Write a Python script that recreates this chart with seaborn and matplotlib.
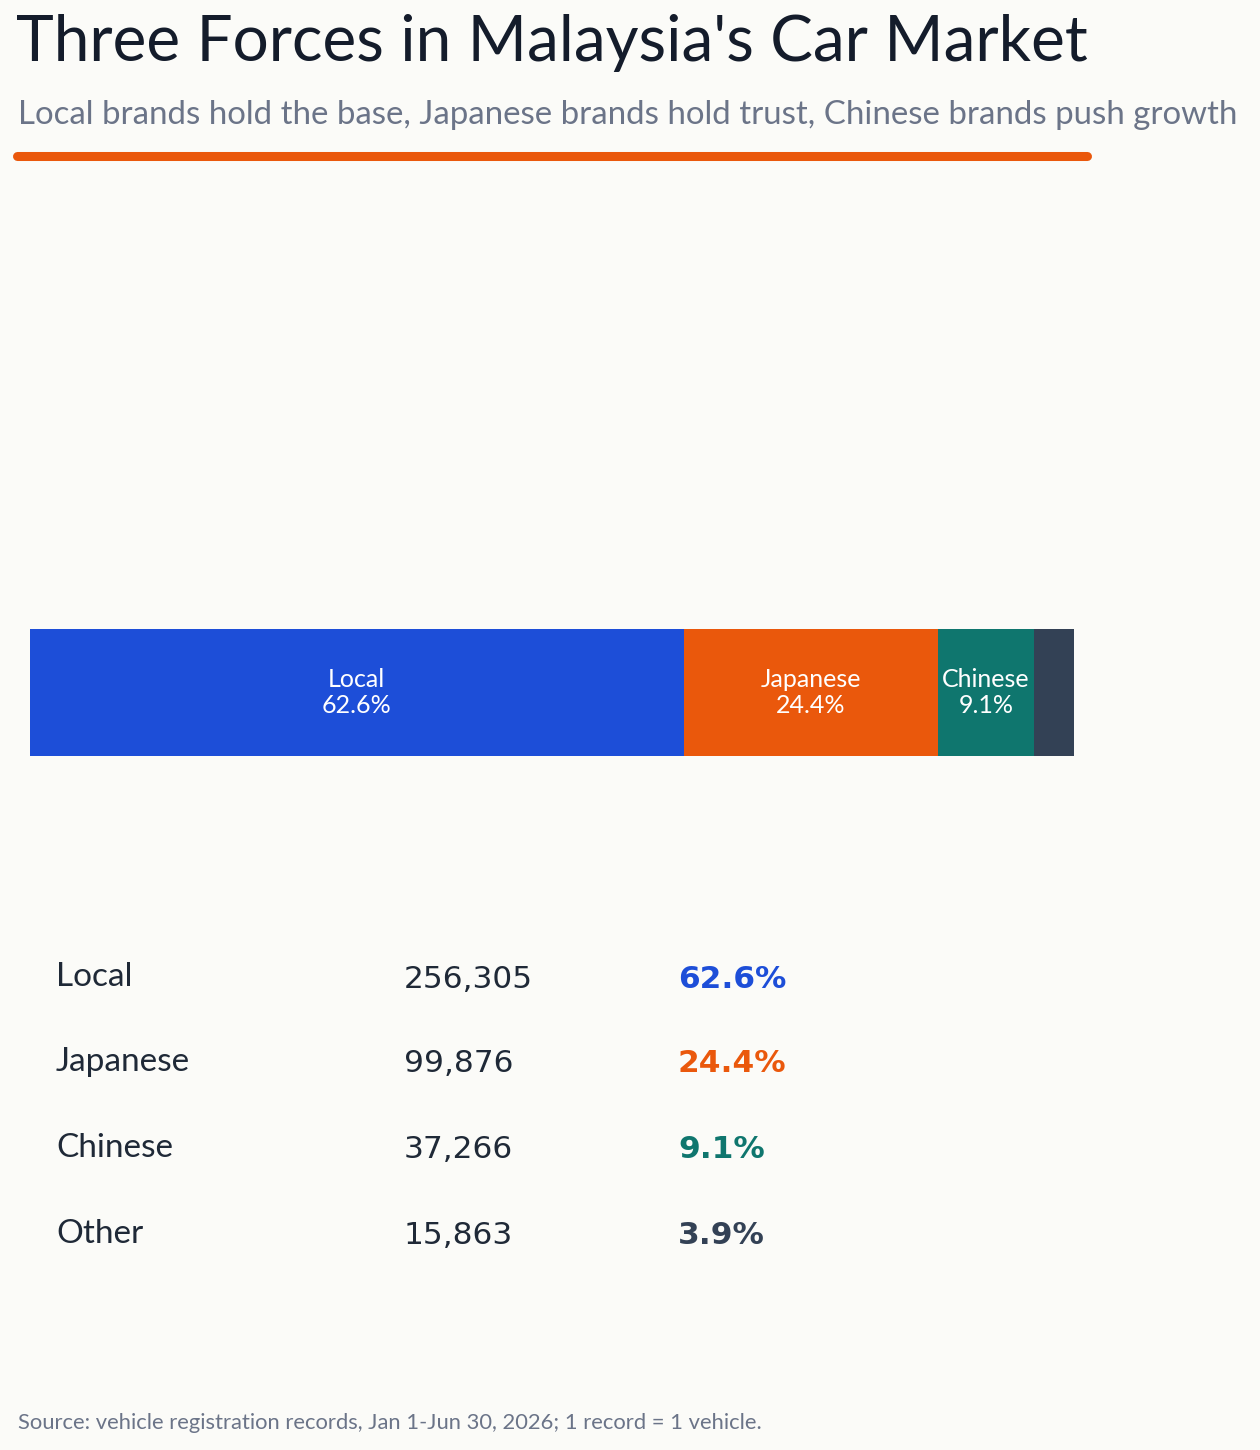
import matplotlib
matplotlib.use("Agg")
import matplotlib.pyplot as plt
import seaborn as sns
from matplotlib.lines import Line2D

# data
categories = ["Local", "Japanese", "Chinese", "Other"]
vehicles = [256305, 99876, 37266, 15863]
shares = ["62.6%", "24.4%", "9.1%", "3.9%"]
colors = ["#1d4ed8", "#ea580c", "#0f766e", "#334155"]

BG = "#fbfbf8"
sns.set_theme(style="white")
plt.rcParams["font.family"] = ["Lato", "DejaVu Sans"]

W, H = 1260, 1450
fig = plt.figure(figsize=(W / 100, H / 100), dpi=100, facecolor=BG)

def fx(px):
    return px / W

def fy(py):
    return 1 - py / H

# header
fig.text(fx(16), fy(43), "Three Forces in Malaysia's Car Market", fontsize=46,
         color="#141c2b", va="center", ha="left")
fig.text(fx(18), fy(115), "Local brands hold the base, Japanese brands hold trust, Chinese brands push growth",
         fontsize=23.8, color="#6b7488", va="center", ha="left")
fig.add_artist(Line2D([fx(17), fx(1087)], [fy(156), fy(156)], color="#ea580c",
                      lw=6.5, solid_capstyle="round", transform=fig.transFigure))

# stacked share bar
total = sum(vehicles)
ax = fig.add_axes([fx(30), fy(756), fx(1074) - fx(30), (756 - 629) / H])
ax.set_facecolor(BG)
cum = []
running = 0
for v in vehicles:
    running += v
    cum.append(running)
for cat, end, c in reversed(list(zip(categories, cum, colors))):
    sns.barplot(x=[end], y=["share"], color=c, width=1.0, saturation=1,
                orient="h", ax=ax, linewidth=0)
ax.set_xlim(0, total)
ax.set_ylim(0.5, -0.5)
ax.axis("off")

start = 0
for cat, v, s in zip(categories, vehicles, shares):
    if cat != "Other":
        ax.text(start + v / 2, 0, f"{cat}\n{s}", color="white", ha="center",
                va="center", fontsize=18, linespacing=1.12)
    start += v

# table
row_y = [977, 1062, 1148, 1234]
for cat, v, s, c, y in zip(categories, vehicles, shares, colors, row_y):
    fig.text(fx(56), fy(y), cat, fontsize=24, color="#1f2937", va="center", ha="left")
    fig.text(fx(404), fy(y + 2), f"{v:,}", fontsize=22.5, color="#1f2937", va="center",
             ha="left", family="DejaVu Sans")
    fig.text(fx(678), fy(y + 2), s, fontsize=22.5, color=c, va="center", ha="left",
             family="DejaVu Sans", fontweight="bold")

fig.text(fx(18), fy(1423), "Source: vehicle registration records, Jan 1-Jun 30, 2026; 1 record = 1 vehicle.",
         fontsize=15.8, color="#6b7488", va="center", ha="left")

fig.savefig("out.png", dpi=100, facecolor=BG)
